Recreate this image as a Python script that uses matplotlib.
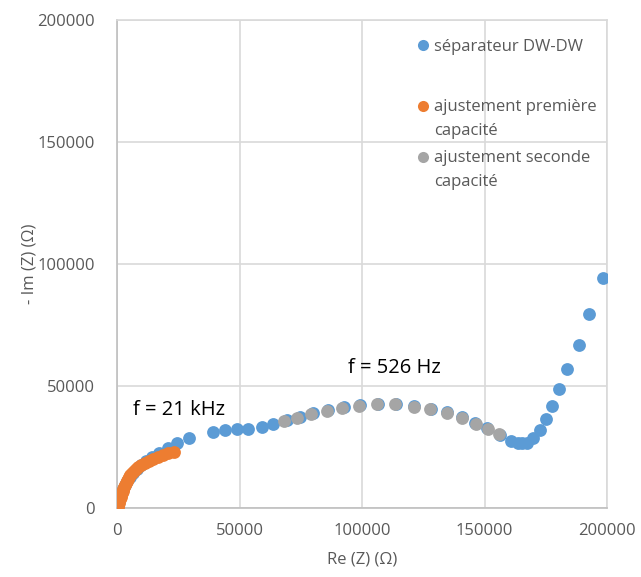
import matplotlib
matplotlib.use("Agg")
import matplotlib.pyplot as plt
from matplotlib.lines import Line2D
from matplotlib.legend_handler import HandlerLine2D

plt.rcParams['font.family'] = ['Open Sans', 'DejaVu Sans']

# séparateur DW-DW (measured)
sep_re = [200, 400, 800, 1200, 1800, 2400, 3300, 4100, 5300, 6500, 8200, 9800,
          11800, 14300, 17100, 20800, 24500, 29400,
          39200, 44100, 49000, 53500, 59200, 63700,
          69400, 74700, 80000, 86100, 92700, 99200, 106500, 113900, 121200,
          128200, 134700, 140800, 146100, 151000,
          156300, 160800, 163500, 165300, 167400, 169800, 172700, 175100,
          177600, 180400, 183700, 188600, 192700, 198400]
sep_im = [200, 1200, 2900, 4500, 6100, 7800, 9400, 11100, 12700, 14300, 16000, 17600,
          19300, 20900, 22500, 24600, 26600, 28700,
          31100, 32000, 32400, 32400, 33200, 34400,
          36100, 37300, 38900, 40200, 41400, 42200, 42600, 42600, 41800,
          40600, 39300, 37300, 34800, 32800,
          29900, 27500, 26700, 26600, 26800, 28700, 32000, 36500,
          41800, 48800, 57000, 66800, 79500, 94300]

# ajustement première capacité
fit1_re = [400, 600, 800, 1000, 1200, 1450, 1650, 2000, 2300, 2500, 2900, 3300,
           3700, 4100, 4500, 4900, 5300, 6100, 6900, 7800, 8600, 9800, 11400,
           13100, 14700, 16700, 18800, 20800, 23300]
fit1_im = [400, 1200, 2000, 2900, 3700, 4500, 5300, 6100, 7000, 7800, 8600, 9400,
           10200, 11100, 11900, 12700, 13500, 14300, 15200, 16000, 16800, 17600,
           18400, 19300, 20100, 20900, 21700, 22500, 22900]

# ajustement seconde capacité
fit2_re = [68200, 73500, 79200, 85700, 91800, 98800, 106100, 113500, 121200,
           127800, 134700, 140800, 146500, 151400, 155900]
fit2_im = [35700, 36900, 38500, 39800, 41000, 41800, 42600, 42600, 41400,
           40600, 38900, 36900, 34400, 32400, 30300]

labels = ["séparateur DW-DW", "ajustement première\ncapacité",
          "ajustement seconde\ncapacité"]
colors = ["#5B9BD5", "#ED7D31", "#A5A5A5"]
annotations = [("f = 21 kHz", 6500, 40200), ("f = 526 Hz", 94300, 57400)]


class FirstLineHandler(HandlerLine2D):
    """Place the legend marker beside the first line of a multi-line label."""
    def __init__(self, shift=0.0, **kw):
        super().__init__(**kw)
        self.shift = shift

    def create_artists(self, legend, orig_handle, xdescent, ydescent,
                       width, height, fontsize, trans):
        arts = super().create_artists(legend, orig_handle, xdescent, ydescent,
                                      width, height, fontsize, trans)
        for a in arts:
            a.set_ydata([y + self.shift for y in a.get_ydata()])
        return arts


fig = plt.figure(figsize=(6.41, 5.77), dpi=100)
ax = fig.add_axes([117/641, (577-508)/577, 490/641, 488/577])

s = 85
ax.scatter(sep_re, sep_im, s=s, color=colors[0], linewidths=0, zorder=3)
ax.scatter(fit1_re, fit1_im, s=s, color=colors[1], linewidths=0, zorder=4)
ax.scatter(fit2_re, fit2_im, s=s, color=colors[2], linewidths=0, zorder=4)

ax.set_xlim(0, 200000)
ax.set_ylim(0, 200000)
ticks = [0, 50000, 100000, 150000, 200000]
ax.set_xticks(ticks)
ax.set_yticks(ticks)
ax.set_xticklabels([str(t) for t in ticks])
ax.set_yticklabels([str(t) for t in ticks])
ax.grid(True, color="#D9D9D9", linewidth=1.2, zorder=0)
ax.set_axisbelow(True)
for side in ["top", "right"]:
    ax.spines[side].set_color("#D9D9D9")
    ax.spines[side].set_linewidth(1.2)
for side in ["left", "bottom"]:
    ax.spines[side].set_color("#BFBFBF")
    ax.spines[side].set_linewidth(1.2)
ax.tick_params(length=0, labelsize=12, labelcolor="#595959")
ax.tick_params(axis='x', pad=11)
ax.tick_params(axis='y', pad=16)

ax.set_xlabel("Re (Z) (Ω)", fontsize=12, color="#595959", labelpad=9)
ax.set_ylabel("- Im (Z) (Ω)", fontsize=12, color="#595959", labelpad=0)

for txt, x, y in annotations:
    ax.text(x, y, txt, fontsize=14.5, color="black", va="center", ha="left")

handles = [Line2D([], [], linestyle="none", marker="o", markersize=8,
                  markerfacecolor=c, markeredgewidth=0) for c in colors]
common = dict(frameon=False, fontsize=12, handlelength=0.7,
              handletextpad=0.32, borderaxespad=0, borderpad=0)

leg1 = ax.legend(handles[:1], labels[:1], loc="upper left",
                 bbox_to_anchor=(0.612, 0.9617), **common)
for t in leg1.get_texts():
    t.set_color("#595959")
ax.add_artist(leg1)

shift = 9.5
leg2 = ax.legend(handles[1:], labels[1:], loc="upper left",
                 bbox_to_anchor=(0.612, 0.8387), labelspacing=0.62,
                 handler_map={handles[1]: FirstLineHandler(shift),
                              handles[2]: FirstLineHandler(shift)},
                 **common)
for t in leg2.get_texts():
    t.set_color("#595959")
    t.set_linespacing(1.72)

fig.savefig("out.png", dpi=100)
